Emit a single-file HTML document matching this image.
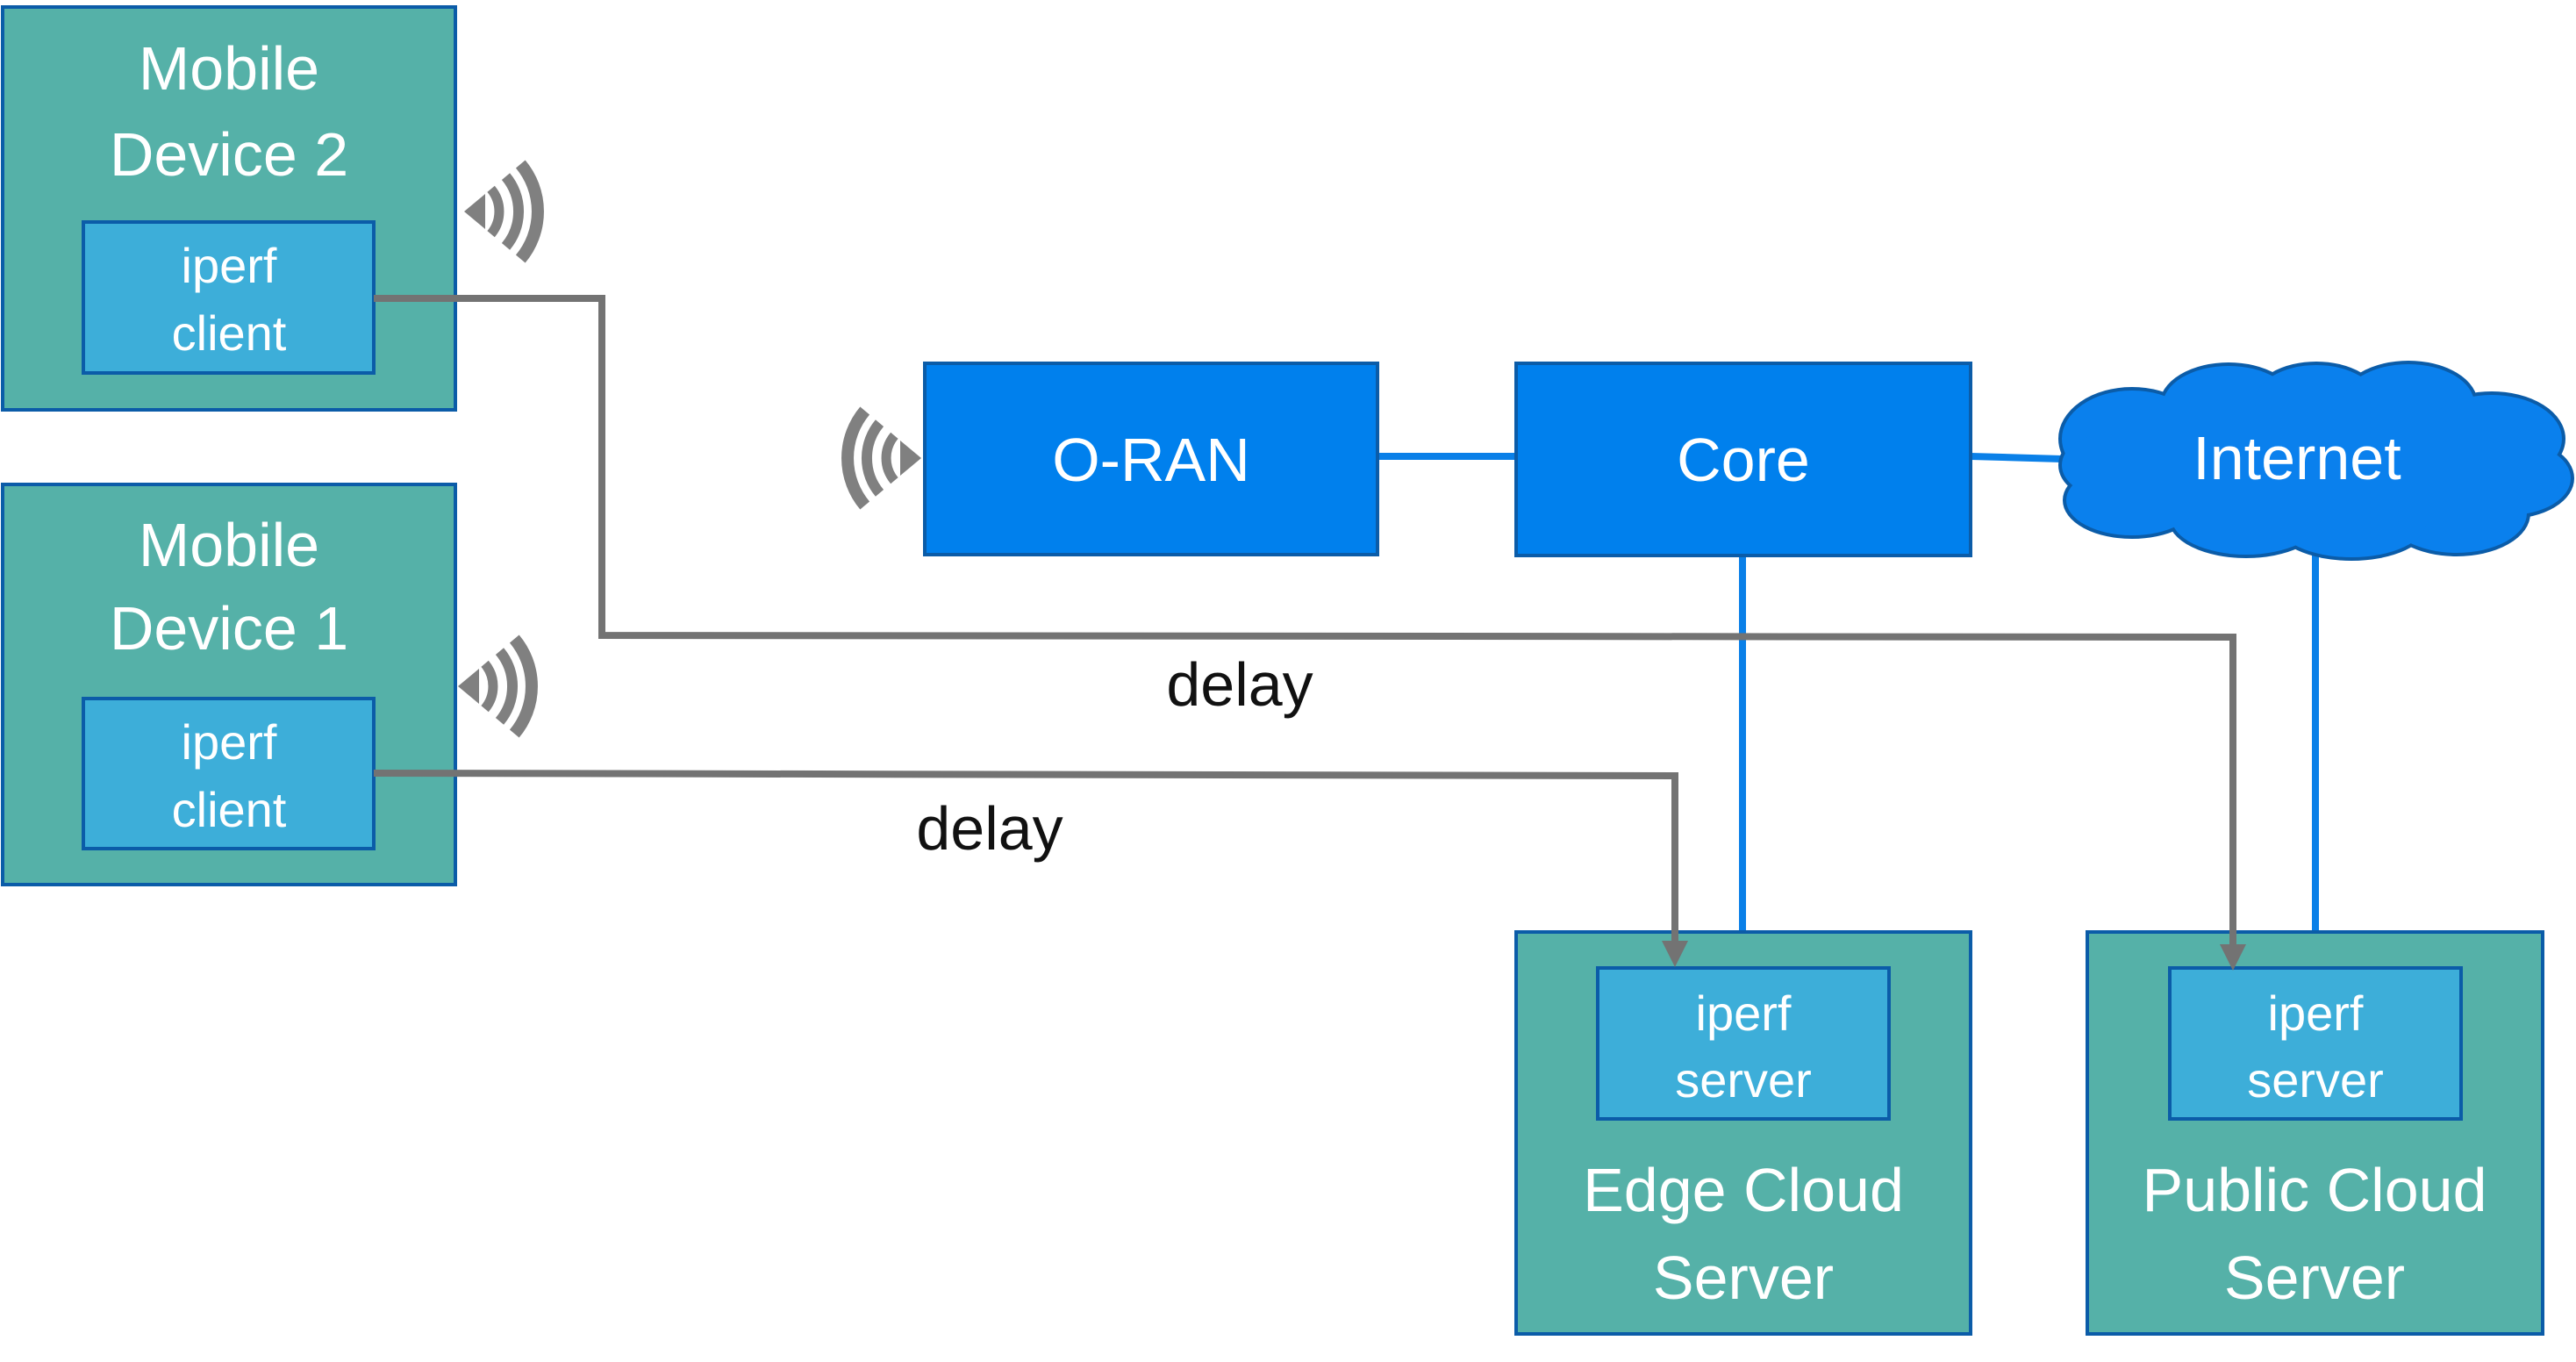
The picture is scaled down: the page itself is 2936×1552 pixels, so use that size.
<!DOCTYPE html>
<html><head><meta charset="utf-8"><style>
html,body{margin:0;padding:0;background:#fff;}
svg{display:block;}
text{font-family:"Liberation Sans",sans-serif;}
</style></head><body>
<svg width="2936" height="1552" viewBox="0 0 2936 1552" xmlns="http://www.w3.org/2000/svg">
<g stroke="#0a80e8" stroke-width="8" fill="none">
<line x1="1570" y1="520" x2="1728" y2="520"/>
<line x1="2246" y1="520" x2="2350" y2="523"/>
<line x1="1986" y1="633" x2="1986" y2="1062"/>
<line x1="2639" y1="630" x2="2639" y2="1062"/>
</g>
<g stroke="#0b5ca8" stroke-width="4">
<rect x="3" y="8" width="516" height="459" fill="#55b1a8"/>
<rect x="95" y="253" width="331" height="172" fill="#3daed9"/>
<rect x="3" y="552" width="516" height="456" fill="#55b1a8"/>
<rect x="95" y="796" width="331" height="171" fill="#3daed9"/>
<rect x="1054" y="414" width="516" height="218" fill="#0080ed"/>
<rect x="1728" y="414" width="518" height="219" fill="#0080ed"/>
<rect x="1728" y="1062" width="518" height="458" fill="#55b1a8"/>
<rect x="1821" y="1103" width="332" height="172" fill="#3daed9"/>
<rect x="2379" y="1062" width="519" height="458" fill="#55b1a8"/>
<rect x="2473" y="1103" width="332" height="172" fill="#3daed9"/>
</g>
<g stroke="#0b5ca8" stroke-width="8" fill="#0a80ed">
<ellipse cx="2430" cy="500" rx="80" ry="55"/>
<ellipse cx="2540" cy="462" rx="75" ry="45"/>
<ellipse cx="2640" cy="458" rx="70" ry="42"/>
<ellipse cx="2745" cy="460" rx="75" ry="45"/>
<ellipse cx="2840" cy="500" rx="80" ry="50"/>
<ellipse cx="2860" cy="545" rx="70" ry="42"/>
<ellipse cx="2800" cy="585" rx="80" ry="45"/>
<ellipse cx="2680" cy="595" rx="85" ry="40"/>
<ellipse cx="2560" cy="590" rx="85" ry="42"/>
<ellipse cx="2430" cy="570" rx="75" ry="40"/>
<ellipse cx="2400" cy="530" rx="50" ry="35"/>
</g>
<g fill="#0a80ed">
<ellipse cx="2430" cy="500" rx="80" ry="55"/>
<ellipse cx="2540" cy="462" rx="75" ry="45"/>
<ellipse cx="2640" cy="458" rx="70" ry="42"/>
<ellipse cx="2745" cy="460" rx="75" ry="45"/>
<ellipse cx="2840" cy="500" rx="80" ry="50"/>
<ellipse cx="2860" cy="545" rx="70" ry="42"/>
<ellipse cx="2800" cy="585" rx="80" ry="45"/>
<ellipse cx="2680" cy="595" rx="85" ry="40"/>
<ellipse cx="2560" cy="590" rx="85" ry="42"/>
<ellipse cx="2430" cy="570" rx="75" ry="40"/>
<ellipse cx="2400" cy="530" rx="50" ry="35"/>
<rect x="2420" y="470" width="420" height="120"/>
</g>
<g stroke="#737373" stroke-width="8" fill="none">
<polyline points="426,340 686,340 686,724 2545,726 2545,1080"/>
<polyline points="426,881 1909,884 1909,1076"/>
</g>
<g fill="#737373">
<polygon points="2530,1076 2560,1076 2545,1106"/>
<polygon points="1894,1072 1924,1072 1909,1102"/>
</g>
<g fill="#808080">
<g transform="translate(529,241)">
<polygon points="0,0 24,-20 24,20"/>
<path d="M30.6,-25.7 A40,40 0 0 1 30.6,25.7" stroke="#808080" stroke-width="11" fill="none"/>
<path d="M47.5,-39.9 A62,62 0 0 1 47.5,39.9" stroke="#808080" stroke-width="12" fill="none"/>
<path d="M64.3,-54 A84,84 0 0 1 64.3,54" stroke="#808080" stroke-width="14" fill="none"/>
</g>
<g transform="translate(522,782)">
<polygon points="0,0 24,-20 24,20"/>
<path d="M30.6,-25.7 A40,40 0 0 1 30.6,25.7" stroke="#808080" stroke-width="11" fill="none"/>
<path d="M47.5,-39.9 A62,62 0 0 1 47.5,39.9" stroke="#808080" stroke-width="12" fill="none"/>
<path d="M64.3,-54 A84,84 0 0 1 64.3,54" stroke="#808080" stroke-width="14" fill="none"/>
</g>
<g transform="translate(1050,522)">
<polygon points="0,0 -24,-20 -24,20"/>
<path d="M-30.6,-25.7 A40,40 0 0 0 -30.6,25.7" stroke="#808080" stroke-width="11" fill="none"/>
<path d="M-47.5,-39.9 A62,62 0 0 0 -47.5,39.9" stroke="#808080" stroke-width="12" fill="none"/>
<path d="M-64.3,-54 A84,84 0 0 0 -64.3,54" stroke="#808080" stroke-width="14" fill="none"/>
</g>
</g>
<g fill="#ffffff" text-anchor="middle" font-size="70">
<text x="261" y="102">Mobile</text>
<text x="261" y="200">Device 2</text>
<text x="261" y="645">Mobile</text>
<text x="261" y="740">Device 1</text>
<text x="1312" y="548">O-RAN</text>
<text x="1987" y="548">Core</text>
<text x="2618" y="546">Internet</text>
<text x="1987" y="1380">Edge Cloud</text>
<text x="1987" y="1480">Server</text>
<text x="2638" y="1380">Public Cloud</text>
<text x="2638" y="1480">Server</text>
</g>
<g fill="#ffffff" text-anchor="middle" font-size="56">
<text x="261" y="322">iperf</text>
<text x="261" y="399">client</text>
<text x="261" y="865">iperf</text>
<text x="261" y="942">client</text>
<text x="1987" y="1174">iperf</text>
<text x="1987" y="1250">server</text>
<text x="2639" y="1174">iperf</text>
<text x="2639" y="1250">server</text>
</g>
<g fill="#111" text-anchor="middle" font-size="70">
<text x="1413" y="804">delay</text>
<text x="1128" y="968">delay</text>
</g>
</svg>
</body></html>
